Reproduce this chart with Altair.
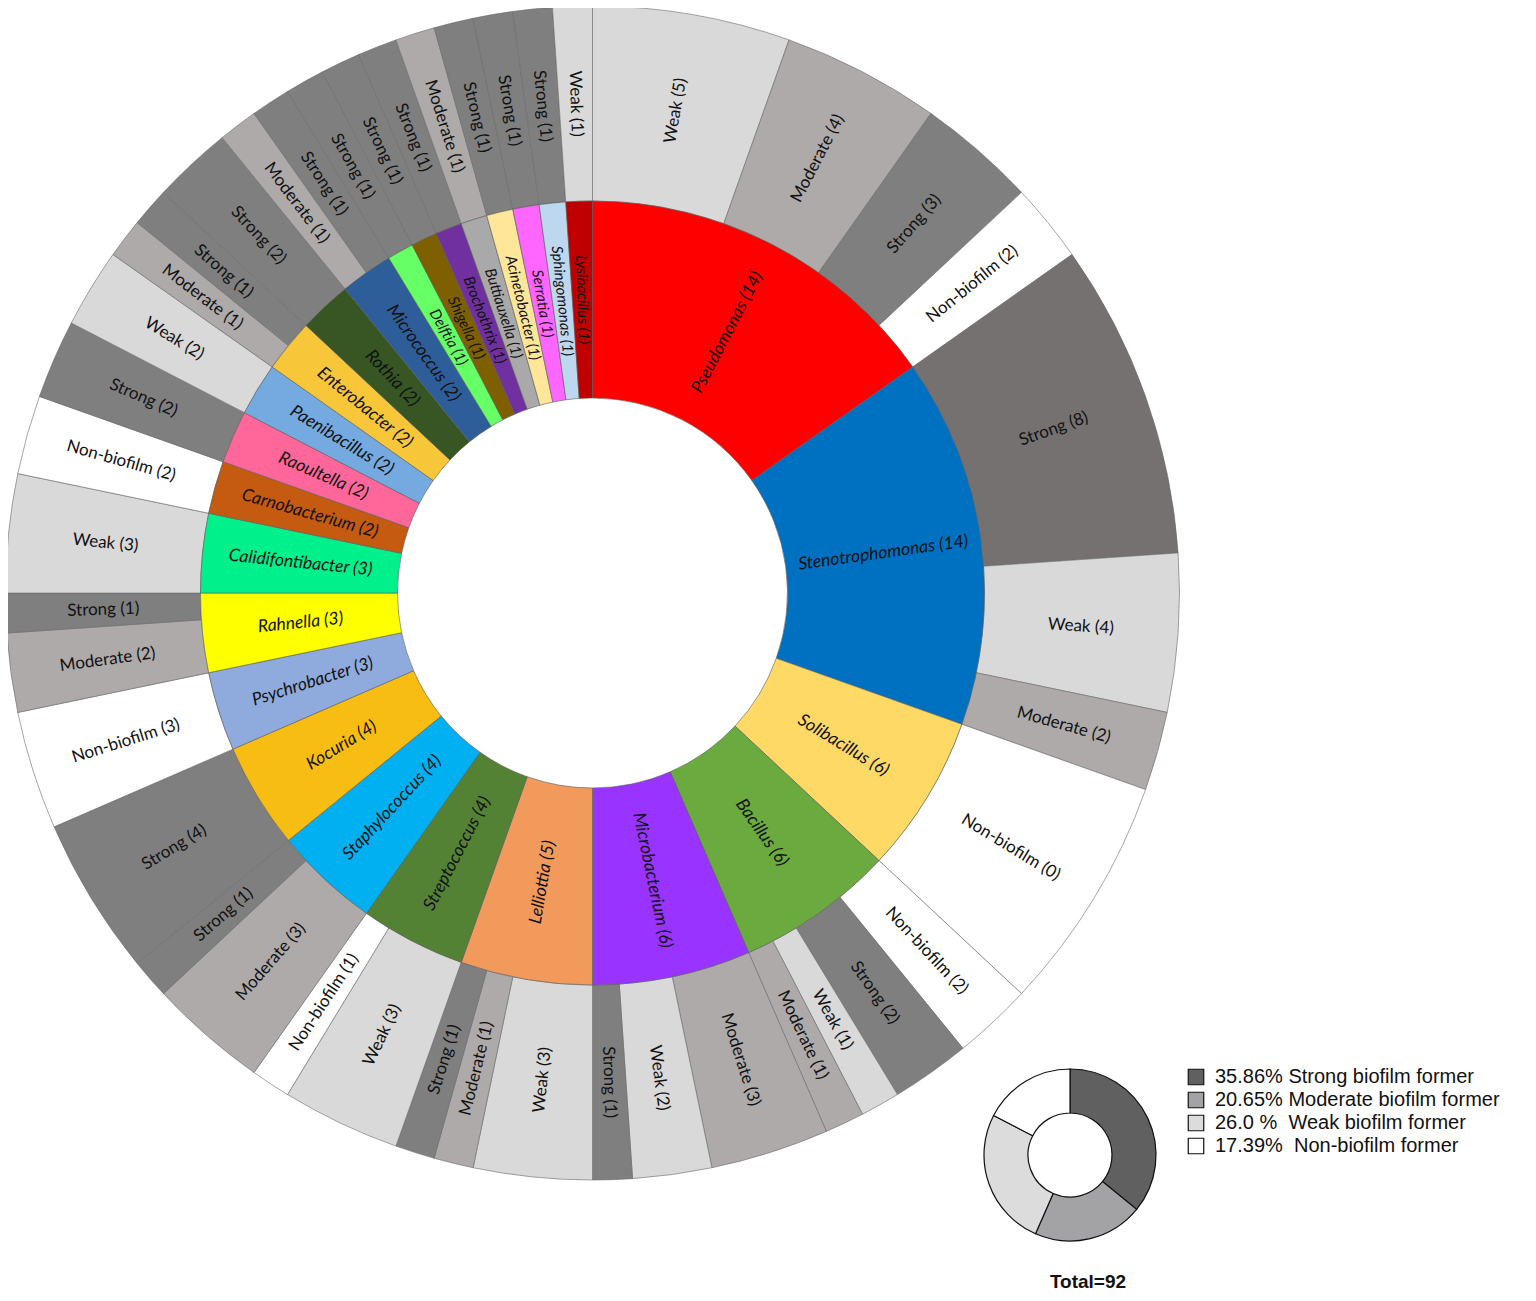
import math
import altair as alt
import pandas as pd

# ---------------- data ----------------
genera = ["Pseudomonas", "Stenotrophomonas", "Solibacillus", "Bacillus", "Microbacterium",
          "Lelliottia", "Streptococcus", "Staphylococcus", "Kocuria", "Psychrobacter",
          "Rahnella", "Calidifontibacter", "Carnobacterium", "Raoultella", "Paenibacillus",
          "Enterobacter", "Rothia", "Micrococcus", "Delftia", "Shigella", "Brochothrix",
          "Buttiauxella", "Acinetobacter", "Serratia", "Sphingomonas", "Lysibacillus"]
genus_counts = [14, 14, 6, 6, 6, 5, 4, 4, 4, 3, 3, 3, 2, 2, 2, 2, 2, 2, 1, 1, 1, 1, 1, 1, 1, 1]
genus_colors = ["#ff0000", "#0070c0", "#ffd966", "#6aaa3e", "#9933ff", "#f29a5c", "#548235",
                "#00b0f0", "#f8bd12", "#8faadc", "#ffff00", "#00f08c", "#c55a11", "#ff6699",
                "#74aadf", "#f7c739", "#375623", "#2e5e99", "#66ff66", "#7f6000", "#7030a0",
                "#a9a9a9", "#ffe699", "#ff66ff", "#bdd7ee", "#c00000"]

outer_genus = ["Pseudomonas"] * 4 + ["Stenotrophomonas"] * 3 + ["Solibacillus"] + ["Bacillus"] * 4 + \
              ["Microbacterium"] * 3 + ["Lelliottia"] * 3 + ["Streptococcus"] * 2 + ["Staphylococcus"] * 2 + \
              ["Kocuria", "Psychrobacter"] + ["Rahnella"] * 2 + ["Calidifontibacter", "Carnobacterium",
              "Raoultella", "Paenibacillus"] + ["Enterobacter"] * 2 + ["Rothia"] + ["Micrococcus"] * 2 + \
              ["Delftia", "Shigella", "Brochothrix", "Buttiauxella", "Acinetobacter", "Serratia",
               "Sphingomonas", "Lysibacillus"]
outer_class = ["Weak", "Moderate", "Strong", "Non-biofilm",
               "Strong", "Weak", "Moderate",
               "Non-biofilm",
               "Non-biofilm", "Strong", "Weak", "Moderate",
               "Moderate", "Weak", "Strong",
               "Weak", "Moderate", "Strong",
               "Weak", "Non-biofilm",
               "Moderate", "Strong",
               "Strong", "Non-biofilm",
               "Moderate", "Strong",
               "Weak", "Non-biofilm", "Strong", "Weak",
               "Moderate", "Strong",
               "Strong",
               "Moderate", "Strong",
               "Strong", "Strong", "Strong", "Moderate", "Strong", "Strong", "Strong", "Weak"]
outer_values = [5, 4, 3, 2,
                8, 4, 2,
                6,
                2, 2, 1, 1,
                3, 2, 1,
                3, 1, 1,
                3, 1,
                3, 1,
                4, 3,
                2, 1,
                3, 2, 2, 2,
                1, 1,
                2,
                1, 1,
                1, 1, 1, 1, 1, 1, 1, 1]
# numbers printed in the labels (the Solibacillus label reads "(0)" in the original)
outer_shown = list(outer_values)
outer_shown[7] = 0

class_colors = {"Strong": "#7f7f7f", "Moderate": "#aeaaaa", "Weak": "#d9d9d9", "Non-biofilm": "#ffffff"}
strong_dark = "#767171"

legend_labels = ["35.86% Strong biofilm former", "20.65% Moderate biofilm former",
                 "26.0 %\u00a0 Weak biofilm former", "17.39%\u00a0 Non-biofilm former"]
legend_pct = [35.86, 20.65, 26.0, 17.39]
legend_colors = ["#606060", "#a3a3a6", "#dcdcdc", "#ffffff"]

# ---------------- tables ----------------
TOTAL = sum(genus_counts)


def rot(mid):
    deg = mid / TOTAL * 360
    return deg - 90 if deg < 180 else deg - 270


rows = []
c = 0
for g, n, col in zip(genera, genus_counts, genus_colors):
    rows.append(dict(start=c, end=c + n, mid=c + n / 2, rot=rot(c + n / 2),
                     label=f"{g} ({n})", count=n, color=col))
    c += n
inner_df = pd.DataFrame(rows)

rows = []
c = 0
for g, cl, v, s in zip(outer_genus, outer_class, outer_values, outer_shown):
    col = strong_dark if (cl == "Strong" and g == "Stenotrophomonas") else class_colors[cl]
    rows.append(dict(start=c, end=c + v, mid=c + v / 2, rot=rot(c + v / 2),
                     label=f"{cl} ({s})", color=col))
    c += v
outer_df = pd.DataFrame(rows)

rows = []
c = 0
for lab, p in zip(legend_labels, legend_pct):
    rows.append(dict(p0=c, p1=c + p, label=lab))
    c += p
leg_df = pd.DataFrame(rows)
PTOT = c

# ---------------- geometry ----------------
CX, CY = 584.5, 585
R0, R1, R2 = 195, 392, 587
LX, LY = 1062, 1147
TH = alt.Scale(domain=[0, TOTAL], range=[0, 2 * math.pi])
THL = alt.Scale(domain=[0, PTOT], range=[0, 2 * math.pi])
FONT = "Lato"

inner_arc = alt.Chart(inner_df).mark_arc(radius=R1, radius2=R0, stroke="#5a5a5a", strokeWidth=0.6).encode(
    theta=alt.Theta("start:Q", scale=TH, stack=None), theta2="end:Q",
    fill=alt.Fill("color:N", scale=None), x=alt.value(CX), y=alt.value(CY))

outer_arc = alt.Chart(outer_df).mark_arc(radius=R2, radius2=R1, stroke="#6a6a6a", strokeWidth=0.6).encode(
    theta=alt.Theta("start:Q", scale=TH, stack=None), theta2="end:Q",
    fill=alt.Fill("color:N", scale=None), x=alt.value(CX), y=alt.value(CY))

inner_txt = alt.Chart(inner_df).mark_text(radius=(R0 + R1) / 2, font=FONT, fontStyle="italic",
                                          align="center", baseline="middle", color="#111111").encode(
    theta=alt.Theta("mid:Q", scale=TH, stack=None), angle=alt.Angle("rot:Q", scale=None),
    text="label:N", x=alt.value(CX), y=alt.value(CY),
    size=alt.condition("datum.count == 1", alt.value(15), alt.value(17.5)))

outer_txt = alt.Chart(outer_df).mark_text(radius=(R1 + R2) / 2, font=FONT, fontSize=17,
                                          align="center", baseline="middle", color="#111111").encode(
    theta=alt.Theta("mid:Q", scale=TH, stack=None), angle=alt.Angle("rot:Q", scale=None),
    text="label:N", x=alt.value(CX), y=alt.value(CY))

leg_donut = alt.Chart(leg_df).mark_arc(radius=86, radius2=42, stroke="#111111", strokeWidth=1.2).encode(
    theta=alt.Theta("p0:Q", scale=THL, stack=None), theta2="p1:Q",
    color=alt.Color("label:N", scale=alt.Scale(domain=legend_labels, range=legend_colors),
                    legend=alt.Legend(orient="none", legendX=1178, legendY=1059, title=None,
                                      symbolType="square", symbolSize=240, symbolStrokeColor="#111111",
                                      symbolStrokeWidth=1.2, labelFont="Liberation Sans", labelFontSize=20,
                                      labelColor="#111111", labelOffset=9, rowPadding=1, labelLimit=400)),
    x=alt.value(LX), y=alt.value(LY))

total_txt = alt.Chart(pd.DataFrame({"t": [f"Total={TOTAL}"]})).mark_text(
    font="Liberation Sans", fontSize=19, fontWeight="bold", align="center", baseline="middle",
    color="#111111").encode(text="t:N", x=alt.value(1080), y=alt.value(1274))

chart = alt.layer(outer_arc, inner_arc, outer_txt, inner_txt, leg_donut, total_txt).resolve_scale(
    theta="independent").properties(
    width=1520, height=1285, padding=0, autosize="none", background="white"
).configure_view(stroke=None)

chart.save("out.html", embed_options={"renderer": "svg", "actions": False})
